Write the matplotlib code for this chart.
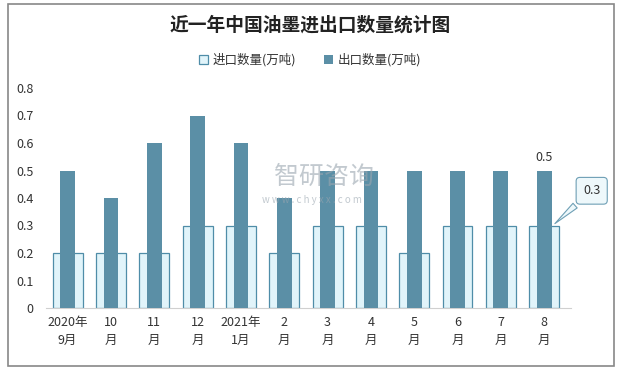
import matplotlib
matplotlib.use("Agg")
import matplotlib.pyplot as plt
from matplotlib.patches import Rectangle
import numpy as np

plt.rcParams['font.family'] = ['Noto Sans CJK SC', 'DejaVu Sans']

categories = ["2020年\n9月", "10\n月", "11\n月", "12\n月", "2021年\n1月", "2\n月",
              "3\n月", "4\n月", "5\n月", "6\n月", "7\n月", "8\n月"]
imports = [0.2, 0.2, 0.2, 0.3, 0.3, 0.2, 0.3, 0.3, 0.2, 0.3, 0.3, 0.3]
exports = [0.5, 0.4, 0.6, 0.7, 0.6, 0.4, 0.5, 0.5, 0.5, 0.5, 0.5, 0.5]
yticks = [0, 0.1, 0.2, 0.3, 0.4, 0.5, 0.6, 0.7, 0.8]
ytick_labels = ["0", "0.1", "0.2", "0.3", "0.4", "0.5", "0.6", "0.7", "0.8"]

fig = plt.figure(figsize=(6.2, 3.7), dpi=100)
fig.patches.append(Rectangle((8/620, 4/370), 606/620, 362/370, transform=fig.transFigure,
                             fill=False, edgecolor='#888888', linewidth=1.2))
ax = fig.add_axes([46/620, 62/370, 525/620, 220/370])
x = np.arange(len(categories))
ax.bar(x, imports, width=0.69, color='#E1F4FA', edgecolor='#4F8DA8', linewidth=0.9,
       label='进口数量(万吨)', zorder=2)
ax.bar(x, exports, width=0.34, color='#5B8FA6', edgecolor='none',
       label='出口数量(万吨)', zorder=3)
ax.set_xlim(-0.5, len(categories) - 0.5 + 0.12)
ax.set_ylim(0, 0.8)
ax.set_yticks(yticks)
ax.set_yticklabels(ytick_labels, fontsize=9, color='#333333')
ax.set_xticks(x)
ax.set_xticklabels(categories, fontsize=9, color='#333333', linespacing=1.5)
for s in ['top', 'right', 'left']:
    ax.spines[s].set_visible(False)
ax.spines['bottom'].set_color('#D0D0D0')
ax.tick_params(axis='both', length=0)
ax.tick_params(axis='y', pad=9)
ax.tick_params(axis='x', pad=6)

# data labels
last = len(categories) - 1
ax.annotate(f"{exports[last]}", (x[last], exports[last]), xytext=(0, 5),
            textcoords='offset points', ha='center', va='bottom', fontsize=9, color='#333333')
ax.annotate(f"{imports[last]}", xy=(x[last] + 0.2, imports[last]), xytext=(28, 25),
            textcoords='offset points', ha='center', va='center', fontsize=9, color='#333333',
            bbox=dict(boxstyle='round,pad=0.55,rounding_size=0.3', fc='#EEF8FB', ec='#6E9FB5', lw=0.8),
            arrowprops=dict(arrowstyle='wedge,tail_width=0.5', fc='#EEF8FB', ec='#6E9FB5', lw=0.8))

# watermark
fig.text(324/620, 1 - 177/370, "智研咨询", fontsize=18, color='#9AA6B0', alpha=0.6,
         ha='center', va='center', zorder=5)
fig.text(312/620, 1 - 200/370, "w w w . c h y x x . c o m", fontsize=7, color='#9AA6B0', alpha=0.6,
         ha='center', va='center', zorder=5)

fig.text(0.5, 1 - 25/370, "近一年中国油墨进出口数量统计图", fontsize=13.5, fontweight='bold',
         ha='center', va='center', color='#222222')
leg = fig.legend(loc='center', bbox_to_anchor=(0.5, 1 - 60/370), ncol=2, frameon=False,
                 fontsize=9, handlelength=0.7, handleheight=0.7, columnspacing=2.2, handletextpad=0.4)
for t in leg.get_texts():
    t.set_color('#333333')

fig.savefig("out.png", dpi=100)
